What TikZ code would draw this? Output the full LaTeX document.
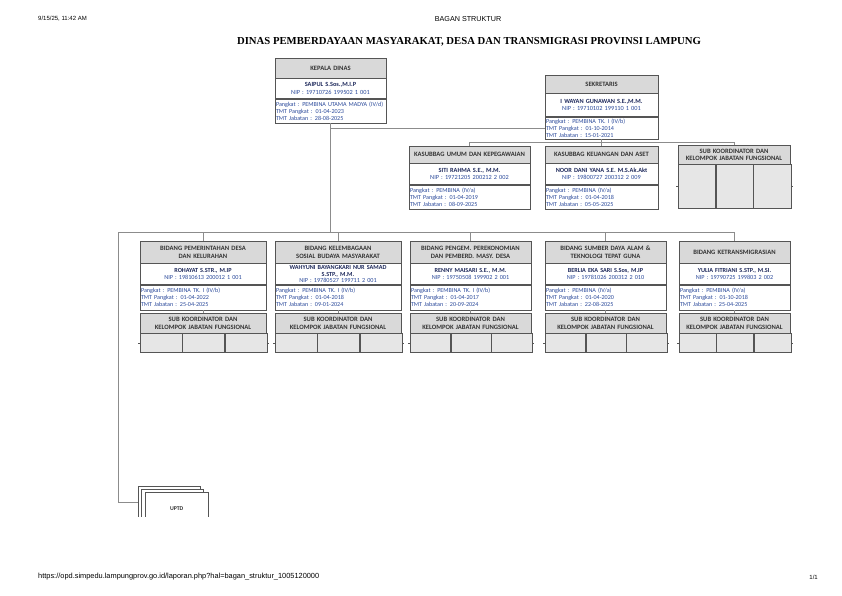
\documentclass[tikz,border=0pt]{standalone}
\usepackage{fontspec}
\setmainfont{Carlito}
\newfontfamily\pagefont{Liberation Sans}
\newfontfamily\judulfont{Liberation Serif}
\usepackage{xcolor}
\usetikzlibrary{positioning}
\definecolor{frame}{HTML}{555555}
\definecolor{headfill}{HTML}{D9D9D9}
\definecolor{cellfill}{HTML}{E6E6E6}
\definecolor{namecol}{HTML}{1F2A5C}
\definecolor{infocol}{HTML}{2B4A9B}
\definecolor{linkline}{HTML}{8C8C8C}
\definecolor{headtext}{HTML}{333333}
\newcommand{\fs}[1]{\fontsize{#1}{#1}\selectfont}

\begin{document}
\begin{tikzpicture}[x=1pt,y=-1pt,
  pagetxt/.style={font=\pagefont\fs{6},inner sep=0pt},
  hdbox/.style={draw=frame,fill=headfill,anchor=north,align=center,inner xsep=1pt,inner ysep=0pt,
                text=headtext,font=\bfseries\fontsize{6.6}{7.6}\selectfont},
  nmbox/.style={draw=frame,fill=white,anchor=north,align=center,inner xsep=1pt,inner ysep=0pt,
                text=infocol,font=\fontsize{6.3}{7.3}\selectfont},
  dtbox/.style={draw=frame,fill=white,anchor=north,align=left,inner xsep=1pt,inner ysep=0pt,
                text=infocol,font=\fontsize{6.1}{7.2}\selectfont},
  cell/.style={draw=frame,fill=cellfill,anchor=north west,inner sep=0pt},
  uptdbox/.style={draw=frame,fill=white,anchor=north west,minimum width=62pt,minimum height=32pt,
                  font=\bfseries\fs{5.8},text=headtext,inner sep=0pt},
  link/.style={draw=linkline,line width=0.6pt}]
  \useasboundingbox (0,0) rectangle (842,595);
  % ---- page header and footer
  \node[pagetxt,anchor=west] (stamp) at (38,19) {9/15/25, 11:42 AM};
  \node[pagetxt,font=\pagefont\fs{7.2}] (halaman) at (468,19) {BAGAN STRUKTUR};
  \node[pagetxt,font=\pagefont\fs{7.4},anchor=west] (url) at (38,577) {https://opd.simpedu.lampungprov.go.id/laporan.php?hal=bagan\_struktur\_1005120000};
  \node[pagetxt,anchor=east] (nomor) at (818,577) {1/1};
  \node[font=\judulfont\bfseries\fs{10.7},inner sep=0pt] (judul) at (469,42)
       {DINAS PEMBERDAYAAN MASYARAKAT, DESA DAN TRANSMIGRASI PROVINSI LAMPUNG};
  % ---- kepala dinas
  \node[hdbox,text width=109pt,minimum height=20pt] (kd-hd) at (330.5,58) {KEPALA DINAS};
  \node[nmbox,text width=109pt,minimum height=20pt,below=0pt of kd-hd] (kd-nm)
       {{\bfseries\color{namecol}SAIPUL S.Sos.,M.I.P}\\NIP : 19710726 199502 1 001};
  \node[dtbox,text width=109pt,minimum height=24pt,below=0pt of kd-nm] (kd-dt)
       {Pangkat : PEMBINA UTAMA MADYA (IV/d)\\TMT Pangkat : 01-04-2023\\TMT Jabatan : 28-08-2025};
  % ---- sekretaris
  \node[hdbox,text width=111pt,minimum height=18pt] (sk-hd) at (601.5,75) {SEKRETARIS};
  \node[nmbox,text width=111pt,minimum height=23pt,below=0pt of sk-hd] (sk-nm)
       {{\bfseries\color{namecol}I WAYAN GUNAWAN S.E.,M.M.}\\NIP : 19710102 199110 1 001};
  \node[dtbox,text width=111pt,minimum height=22pt,below=0pt of sk-nm] (sk-dt)
       {Pangkat : PEMBINA TK. I (IV/b)\\TMT Pangkat : 01-10-2014\\TMT Jabatan : 15-01-2021};
  % ---- kasubbag
  \foreach \n/\x/\w/\hd/\nm/\nip/\pk/\tp/\tj in {
    ku/469.5/121/{KASUBBAG UMUM DAN KEPEGAWAIAN}/{SITI RAHMA S.E., M.M.}/{19721205 200212 2 002}/{PEMBINA (IV/a)}/01-04-2019/08-09-2025,
    kk/601.5/113/{KASUBBAG KEUANGAN DAN ASET}/{NOOR DANI YANA S.E. M.S.Ak.Akt}/{19800727 200312 2 009}/{PEMBINA (IV/a)}/01-04-2018/05-05-2025}
  {
    \pgfmathsetmacro\tw{\w-2}
    \node[hdbox,text width=\tw pt,minimum height=17pt] (\n-hd) at (\x,146) {\hd};
    \node[nmbox,text width=\tw pt,minimum height=21pt,below=0pt of \n-hd] (\n-nm)
         {{\bfseries\color{namecol}\nm}\\NIP : \nip};
    \node[dtbox,text width=\tw pt,minimum height=24pt,below=0pt of \n-nm] (\n-dt)
         {Pangkat : \pk\\TMT Pangkat : \tp\\TMT Jabatan : \tj};
  }
  % ---- bidang row
  \foreach \n/\x/\w/\hd/\nm/\nip/\pk/\tp/\tj in {
    b1/203/126/{BIDANG PEMERINTAHAN DESA\\DAN KELURAHAN}/{ROHAYAT S.STR., M.IP}/{19810613 200012 1 001}/{PEMBINA TK. I (IV/b)}/01-04-2022/25-04-2025,
    b2/338/126/{BIDANG KELEMBAGAAN\\SOSIAL BUDAYA MASYARAKAT}/{WAHYUNI BAYANGKARI NUR SAMAD\\S.STP., M.M.}/{19780527 199711 2 001}/{PEMBINA TK. I (IV/b)}/01-04-2018/09-01-2024,
    b3/470.5/121/{BIDANG PENGEM. PEREKONOMIAN\\DAN PEMBERD. MASY. DESA}/{RENNY MAISARI S.E., M.M.}/{19750508 199902 2 001}/{PEMBINA TK. I (IV/b)}/01-04-2017/20-09-2024,
    b4/605.5/121/{BIDANG SUMBER DAYA ALAM \&\\TEKNOLOGI TEPAT GUNA}/{BERLIA EKA SARI S.Sos, M.IP}/{19781026 200312 2 010}/{PEMBINA (IV/a)}/01-04-2020/22-08-2025,
    b5/734.5/111/{BIDANG KETRANSMIGRASIAN}/{YULIA FITRIANI S.STP., M.SI.}/{19790725 199803 2 002}/{PEMBINA (IV/a)}/01-10-2018/25-04-2025}
  {
    \pgfmathsetmacro\tw{\w-2}
    \node[hdbox,text width=\tw pt,minimum height=22pt] (\n-hd) at (\x,241) {\hd};
    \node[nmbox,text width=\tw pt,minimum height=21pt,below=0pt of \n-hd,font=\fontsize{6.2}{6.6}\selectfont] (\n-nm)
         {{\bfseries\color{namecol}\nm}\\NIP : \nip};
    \node[dtbox,text width=\tw pt,minimum height=25pt,below=0pt of \n-nm] (\n-dt)
         {Pangkat : \pk\\TMT Pangkat : \tp\\TMT Jabatan : \tj};
  }
  % ---- sub koordinator boxes
  \foreach \n/\x/\y/\w/\hh/\ch in {sj/734/145/112/19/44, s1/203/313/126/20/19, s2/338/313/126/20/19,
                                   s3/470.5/313/121/20/19, s4/605.5/313/121/20/19, s5/734.5/313/111/20/19}
  {
    \pgfmathsetmacro\tw{\w-2}
    \pgfmathsetmacro\cw{\w/3}
    \node[hdbox,text width=\tw pt,minimum height=\hh pt] (\n-hd) at (\x,\y)
         {SUB KOORDINATOR DAN\\KELOMPOK JABATAN FUNGSIONAL};
    \node[cell,minimum width=\cw pt,minimum height=\ch pt] (\n-c1) at (\n-hd.south west) {};
    \node[cell,minimum width=\cw pt,minimum height=\ch pt] (\n-c2) at (\n-c1.north east) {};
    \node[cell,minimum width=\cw pt,minimum height=\ch pt] (\n-c3) at (\n-c2.north east) {};
    \draw[frame] (\n-c1.west) -- ++(-1.5,0);
    \draw[frame] (\n-c3.east) -- ++(1.5,0);
  }
  % ---- uptd (cut off by the page)
  \begin{scope}
    \clip (0,0) rectangle (842,516);
    \node[uptdbox] (uptd-a) at (138,486) {};
    \node[uptdbox] (uptd-b) at (141,489) {};
    \node[uptdbox,minimum width=63pt] (uptd) at (145,492) {UPTD};
  \end{scope}
  % ---- connectors
  \coordinate (busL) at (118,232);
  \coordinate (sekbus) at (0,142);
  \draw[link] (kd-dt.south) -- (kd-dt.south |- busL);
  \draw[link] (sk-dt.west) -- (sk-dt.west -| kd-dt.south);
  \draw[link] (sk-dt.south) -- (sk-dt.south |- sekbus);
  \draw[link] (ku-hd.north |- sekbus) -- (sj-hd.north |- sekbus);
  \foreach \n in {ku,kk,sj} \draw[link] (\n-hd.north |- sekbus) -- (\n-hd.north);
  \draw[link] (busL) -- (b5-hd.north |- busL);
  \foreach \i in {1,...,5} {
    \draw[link] (b\i-hd.north |- busL) -- (b\i-hd.north);
    \draw[link] (b\i-dt.south) -- (s\i-hd.north);
  }
  \draw[link] (busL) |- (uptd-a.west);
\end{tikzpicture}
\end{document}
